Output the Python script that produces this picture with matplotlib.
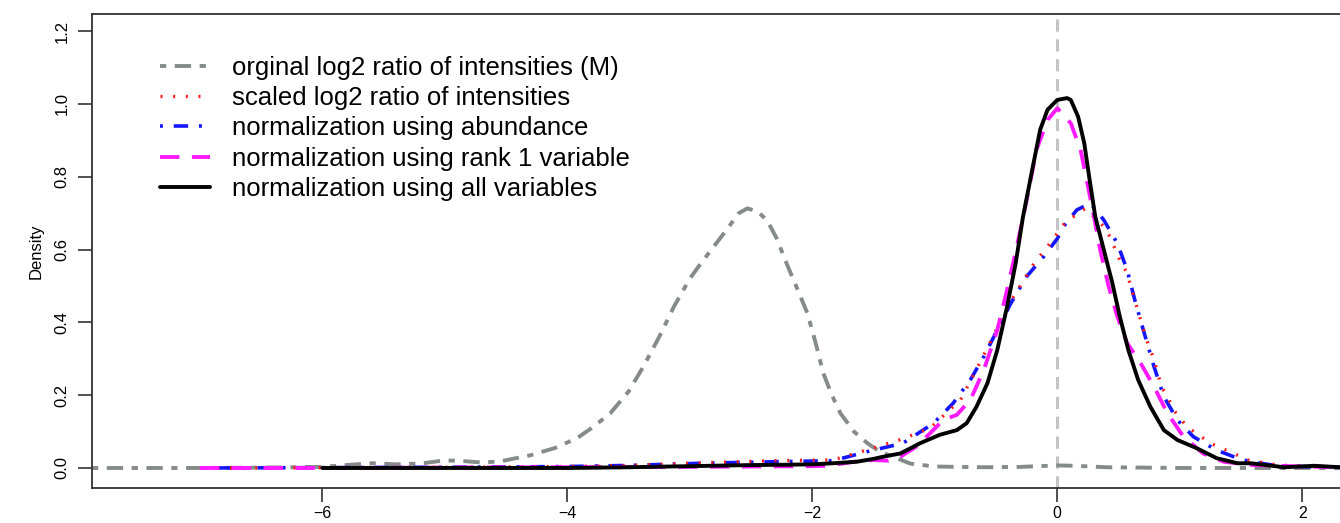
import matplotlib
matplotlib.use("Agg")
import matplotlib.pyplot as plt

plt.rcParams['font.family'] = ['Liberation Sans', 'DejaVu Sans']

# ---- data ----
orig_x = [-7.88, -7.0, -6.5, -6.0, -5.8, -5.6, -5.4, -5.2, -5.0, -4.85, -4.7, -4.55, -4.3, -4.1,
          -3.92, -3.8, -3.65, -3.5, -3.38, -3.25, -3.13, -3.0, -2.91, -2.8, -2.70, -2.6, -2.53,
          -2.45, -2.37, -2.29, -2.21, -2.12, -2.04, -1.97, -1.91, -1.84, -1.77, -1.66, -1.55,
          -1.45, -1.34, -1.2, -1.0, -0.6, -0.3, 0.0, 0.15, 0.4, 1.0, 2.6]
orig_y = [0.0, 0.0, 0.001, 0.003, 0.008, 0.013, 0.010, 0.012, 0.021, 0.019, 0.015, 0.018, 0.035, 0.055,
          0.082, 0.11, 0.15, 0.21, 0.278, 0.36, 0.443, 0.52, 0.562, 0.61, 0.654, 0.700, 0.713,
          0.705, 0.681, 0.63, 0.562, 0.49, 0.425, 0.34, 0.260, 0.20, 0.150, 0.10, 0.068,
          0.045, 0.031, 0.012, 0.004, 0.002, 0.003, 0.007, 0.006, 0.002, 0.0, 0.0]

scaled_x = [-6.96, -6.0, -5.0, -4.0, -3.5, -2.91, -2.32, -1.83, -1.55, -1.28, -1.04, -0.79, -0.60,
            -0.49, -0.38, -0.19, -0.06, 0.065, 0.23, 0.38, 0.43, 0.51, 0.57, 0.60, 0.72, 0.79,
            0.85, 0.90, 0.95, 1.06, 1.25, 1.44, 1.55, 1.8, 2.2, 2.6]
scaled_y = [0.0, 0.001, 0.002, 0.004, 0.007, 0.014, 0.020, 0.022, 0.050, 0.078, 0.109, 0.187, 0.310,
            0.385, 0.458, 0.562, 0.617, 0.675, 0.713, 0.663, 0.635, 0.571, 0.535, 0.498, 0.361, 0.297,
            0.223, 0.196, 0.159, 0.113, 0.068, 0.040, 0.022, 0.008, 0.003, 0.0]

abund_x = [-6.96, -6.0, -5.0, -4.0, -3.5, -2.91, -2.32, -1.83, -1.55, -1.26, -1.01, -0.85, -0.71,
           -0.60, -0.49, -0.38, -0.25, -0.11, 0.0, 0.05, 0.16, 0.27, 0.38, 0.49, 0.57, 0.64, 0.71,
           0.79, 0.87, 0.98, 1.11, 1.30, 1.47, 1.58, 1.8, 2.2, 2.6]
abund_y = [0.0, 0.001, 0.002, 0.004, 0.007, 0.013, 0.017, 0.020, 0.045, 0.068, 0.123, 0.178, 0.242,
           0.306, 0.379, 0.452, 0.526, 0.581, 0.630, 0.663, 0.709, 0.727, 0.681, 0.617, 0.544, 0.452,
           0.370, 0.278, 0.196, 0.132, 0.086, 0.049, 0.027, 0.017, 0.006, 0.002, 0.0]

rank1_x = [-7.0, -6.0, -5.0, -4.0, -3.0, -2.5, -2.0, -1.88, -1.66, -1.5, -1.38, -1.28, -1.15, -1.04,
           -0.93, -0.82, -0.71, -0.60, -0.49, -0.41, -0.33, -0.25, -0.17, -0.08, 0.0, 0.11, 0.19,
           0.24, 0.30, 0.35, 0.42, 0.49, 0.57, 0.68, 0.79, 0.90, 1.03, 1.19, 1.36, 1.6, 2.0, 2.6]
rank1_y = [0.0, 0.0, 0.001, 0.002, 0.003, 0.004, 0.005, 0.006, 0.017, 0.022, 0.020, 0.031, 0.059, 0.095,
           0.132, 0.146, 0.187, 0.269, 0.379, 0.489, 0.608, 0.736, 0.874, 0.956, 0.988, 0.947, 0.874,
           0.791, 0.690, 0.599, 0.498, 0.416, 0.343, 0.288, 0.223, 0.150, 0.086, 0.040, 0.017, 0.008,
           0.004, 0.0]

allv_x = [-6.0, -5.0, -4.0, -3.5, -3.0, -2.5, -2.2, -2.0, -1.83, -1.64, -1.5, -1.42, -1.28, -1.12,
          -0.96, -0.82, -0.74, -0.66, -0.57, -0.49, -0.41, -0.34, -0.28, -0.21, -0.14, -0.08, 0.0,
          0.08, 0.11, 0.17, 0.22, 0.26, 0.31, 0.38, 0.45, 0.51, 0.58, 0.66, 0.76, 0.87, 0.98, 1.14,
          1.30, 1.47, 1.58, 1.85, 2.1, 2.31, 2.6]
allv_y = [0.0, 0.0, 0.0, 0.002, 0.005, 0.008, 0.009, 0.010, 0.013, 0.017, 0.025, 0.031, 0.040, 0.068,
          0.091, 0.104, 0.123, 0.168, 0.233, 0.324, 0.443, 0.562, 0.690, 0.810, 0.929, 0.984, 1.011,
          1.016, 1.011, 0.965, 0.892, 0.800, 0.690, 0.599, 0.507, 0.416, 0.324, 0.242, 0.168, 0.104,
          0.077, 0.054, 0.027, 0.013, 0.013, 0.002, 0.006, 0.002, 0.0]

labels = ["orginal log2 ratio of intensities (M)",
          "scaled log2 ratio of intensities",
          "normalization using abundance",
          "normalization using rank 1 variable",
          "normalization using all variables"]
x_ticks = [-6, -4, -2, 0, 2]
y_ticks = [0.0, 0.2, 0.4, 0.6, 0.8, 1.0, 1.2]

# ---- figure ----
W, H = 1340, 523
fig = plt.figure(figsize=(W / 100, H / 100), dpi=100)
left_px, right_px, top_px, bot_px = 92, 1366, 14, 488
ax = fig.add_axes([left_px / W, (H - bot_px) / H, (right_px - left_px) / W, (bot_px - top_px) / H])

xmin = -7.88
px_per_unit = 122.5
ax.set_xlim(xmin, xmin + (right_px - left_px) / px_per_unit)
ax.set_ylim(-0.055, 1.247)

ax.axvline(0, color='#c4c4c4', lw=2.2, dashes=(4, 2.5), zorder=1)

gray = '#858b88'
l1, = ax.plot(orig_x, orig_y, color=gray, lw=2.8, dashes=(1.6, 2.2, 4.2, 2.2), zorder=2)
l2, = ax.plot(scaled_x, scaled_y, color='#ff1a1a', lw=2.4, dashes=(0.6, 3.2), zorder=4)
l3, = ax.plot(abund_x, abund_y, color='#1515ff', lw=2.6, dashes=(0.8, 3.0, 4.0, 3.0), zorder=3)
l4, = ax.plot(rank1_x, rank1_y, color='#ff1aff', lw=2.8, dashes=(5.0, 3.2), zorder=5)
l5, = ax.plot(allv_x, allv_y, color='black', lw=2.8, solid_capstyle='round',
              solid_joinstyle='round', zorder=6)

leg = ax.legend([l1, l2, l3, l4, l5], labels, loc='upper left', bbox_to_anchor=(0.053, 0.912),
                frameon=False, fontsize=18.5, handlelength=1.95, handletextpad=0.86,
                labelspacing=0.245, borderaxespad=0, borderpad=0)

ax.set_xticks(x_ticks)
ax.set_xticklabels(["\u2212" + str(abs(v)) if v < 0 else str(v) for v in x_ticks])
ax.set_yticks(y_ticks)
ax.set_yticklabels(["%.1f" % v for v in y_ticks], rotation=90, va='center')
ax.tick_params(axis='x', length=10, width=1.2, pad=3, labelsize=11.5, color='#333333')
ax.tick_params(axis='y', length=10, width=1.2, pad=6, labelsize=12, color='#333333')
ax.set_ylabel("Density", fontsize=12, labelpad=8)

for s in ['left', 'bottom', 'top', 'right']:
    ax.spines[s].set_linewidth(1.3)
    ax.spines[s].set_color('#333333')

fig.savefig("out.png", dpi=100)
